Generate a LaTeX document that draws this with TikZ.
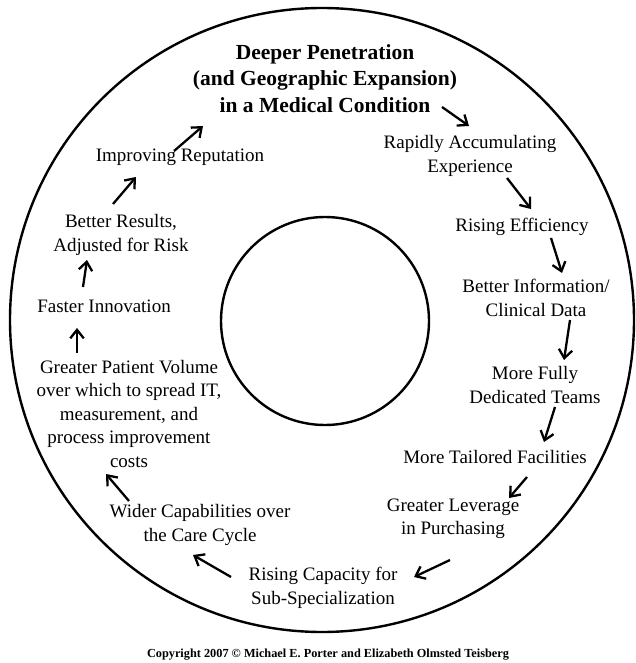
\documentclass[tikz,border=0pt]{standalone}
\usepackage{fontspec}
\setmainfont{Liberation Serif}
\usetikzlibrary{arrows.meta}

\tikzset{
  txt/.style={align=center, inner sep=0pt, font=\fontsize{19}{23.5}\selectfont},
  arr/.style={line width=2.3pt, -{Straight Barb[length=8.5pt, width=13.5pt, line width=2.3pt]}},
}

\begin{document}
\begin{tikzpicture}[x=1pt, y=-1pt]
    \useasboundingbox (0,0) rectangle (636,663);

    \draw [line width=2.4pt] (322,320) circle (312);
    \draw [line width=2.4pt] (325,321) circle (104);

    \node (deep) [align=center, inner sep=0pt, font=\fontsize{21.5}{26.5}\selectfont\bfseries] at (325,78.5)
      {Deeper Penetration\\(and Geographic Expansion)\\in a Medical Condition};
    \node (rapid) [txt] at (470,156) {Rapidly Accumulating\\Experience};
    \node (eff) [txt] at (522,227) {Rising Efficiency};
    \node (info) [txt] at (536,298) {Better Information/\\Clinical Data};
    \node (teams) [txt] at (535,385) {More Fully\\Dedicated Teams};
    \node (facil) [txt] at (495,457) {More Tailored Facilities};
    \node (lever) [txt] at (453,519) {Greater Leverage\\in Purchasing};
    \node (capac) [txt] at (323,588) {Rising Capacity for\\Sub-Specialization};
    \node (wider) [txt] at (200,525) {Wider Capabilities over\\the Care Cycle};
    \node (volume) [txt] at (129,413.5) {Greater Patient Volume\\over which to spread IT,\\measurement, and\\process improvement\\costs};
    \node (faster) [txt] at (104,306) {Faster Innovation};
    \node (results) [txt] at (121,235) {Better Results,\\Adjusted for Risk};
    \node (reput) [txt] at (180,157) {Improving Reputation};
    \node (copy) [inner sep=0pt, font=\fontsize{12.3}{14}\selectfont\bfseries] at (328,655)
      {Copyright 2007 \textcopyright{} Michael E. Porter and Elizabeth Olmsted Teisberg};

    % arrow ends
    \coordinate (a1) at (442,107);  \coordinate (b1) at (469,126);
    \coordinate (a2) at (507,178);  \coordinate (b2) at (531,209);
    \coordinate (a3) at (551,238);  \coordinate (b3) at (562,273);
    \coordinate (a4) at (570,320);  \coordinate (b4) at (564,360);
    \coordinate (a5) at (555,407);  \coordinate (b5) at (544,442);
    \coordinate (a6) at (527,477);  \coordinate (b6) at (509,498);
    \coordinate (a7) at (450,560);  \coordinate (b7) at (414,577);
    \coordinate (a8) at (231,577);  \coordinate (b8) at (193,555);
    \coordinate (a9) at (129,501);  \coordinate (b9) at (106,474);
    \coordinate (a10) at (77,353);  \coordinate (b10) at (77,328);
    \coordinate (a11) at (83,287);  \coordinate (b11) at (87,260);
    \coordinate (a12) at (113,204); \coordinate (b12) at (136,177);
    \coordinate (a13) at (174,151); \coordinate (b13) at (203,126);

    \draw [arr] (a1) -- (b1);
    \draw [arr] (a2) -- (b2);
    \draw [arr] (a3) -- (b3);
    \draw [arr] (a4) -- (b4);
    \draw [arr] (a5) -- (b5);
    \draw [arr] (a6) -- (b6);
    \draw [arr] (a7) -- (b7);
    \draw [arr] (a8) -- (b8);
    \draw [arr] (a9) -- (b9);
    \draw [arr] (a10) -- (b10);
    \draw [arr] (a11) -- (b11);
    \draw [arr] (a12) -- (b12);
    \draw [arr] (a13) -- (b13);
  \end{tikzpicture}
\end{document}
